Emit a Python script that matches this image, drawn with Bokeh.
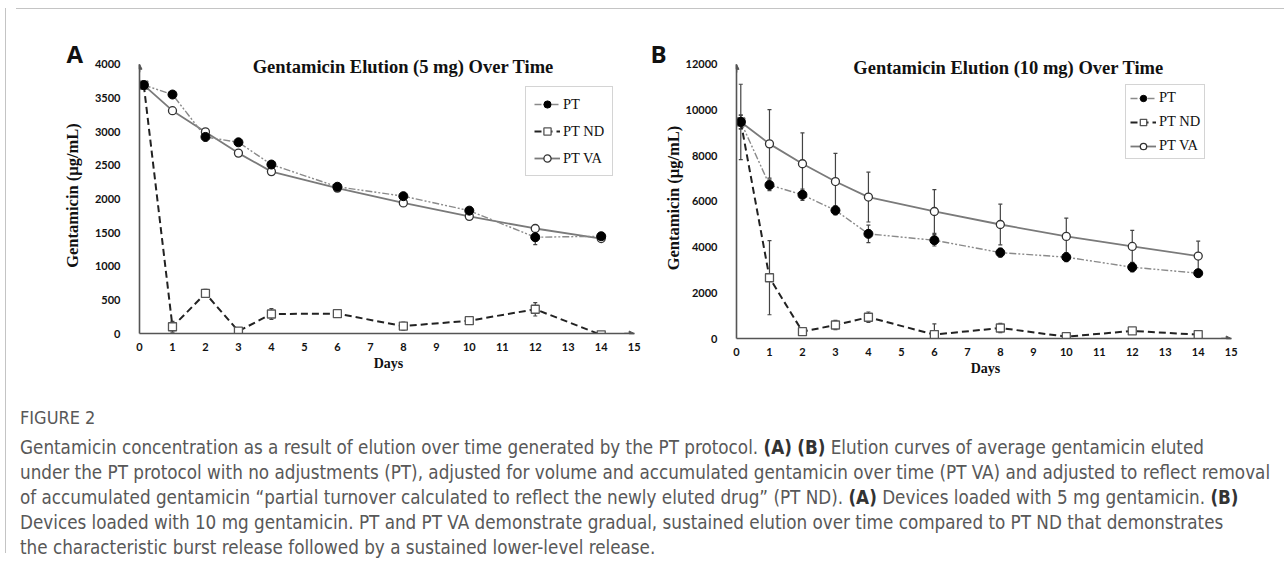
from bokeh.plotting import figure
from bokeh.models import (Range1d, FixedTicker, Whisker, ColumnDataSource, Legend,
                          LegendItem, Label, Arrow, NormalHead, TeeHead, Div, Title, Spacer)
from bokeh.layouts import row, column
from bokeh.embed import file_html
from bokeh.resources import INLINE

# ---------------- data ----------------
days = [0.13, 1, 2, 3, 4, 6, 8, 10, 12, 14]
x_ticks = list(range(16))

a_pt = [3690, 3550, 2920, 2840, 2510, 2180, 2040, 1825, 1430, 1445]
a_pt_err = [40, 40, 60, 40, 40, 40, 40, 40, 110, 40]
a_nd = [3690, 100, 595, 35, 290, 295, 110, 190, 360, -20]
a_nd_err = [40, 80, 60, 40, 80, 50, 60, 40, 100, 30]
a_va = [3690, 3310, 2995, 2680, 2405, 2160, 1940, 1740, 1560, 1410]
a_va_err = [40, 40, 40, 40, 40, 40, 40, 40, 40, 40]
a_yticks = [0, 500, 1000, 1500, 2000, 2500, 3000, 3500, 4000]

b_pt = [9480, 6720, 6290, 5610, 4580, 4300, 3760, 3560, 3120, 2860]
b_pt_err = [300, 250, 250, 200, 380, 250, 200, 200, 200, 150]
b_nd = [9480, 2660, 300, 590, 930, 170, 460, 80, 330, 170]
b_nd_err = [300, 1620, 150, 200, 230, 470, 200, 80, 120, 100]
b_va = [9480, 8520, 7650, 6870, 6190, 5560, 4990, 4470, 4030, 3610]
b_va_err = [1650, 1500, 1350, 1230, 1090, 960, 890, 800, 700, 650]
b_yticks = [0, 2000, 4000, 6000, 8000, 10000, 12000]

labels = ["PT", "PT ND", "PT VA"]

SERIF = "Liberation Serif"
AX = "#555555"
FRAME = "#c4c4c4"


def make_panel(width, height, mbl, mbr, ytop, ymax, yticks, pt, pt_err, nd, nd_err, va, va_err,
               title, title_xy, letter, letter_off, legend_loc, leg_pad, leg_lh, leg_sp,
               ylab_standoff):
    p = figure(width=width, height=height, x_range=Range1d(0, 15.1), y_range=Range1d(0, ytop),
               output_backend="svg", toolbar_location=None,
               min_border_left=mbl, min_border_right=mbr, min_border_top=43,
               min_border_bottom=51)
    p.grid.visible = False
    p.outline_line_color = None
    p.background_fill_color = "white"

    p.xaxis.bounds = (0, 15)
    p.yaxis.bounds = (0, ymax)
    p.xaxis.ticker = FixedTicker(ticks=x_ticks)
    p.yaxis.ticker = FixedTicker(ticks=yticks)
    for ax in (p.xaxis[0], p.yaxis[0]):
        ax.axis_line_color = AX
        ax.axis_line_width = 1.6
        ax.major_tick_line_color = None
        ax.minor_tick_line_color = None
        ax.major_label_text_font = "Lato"
        ax.major_label_text_font_style = "bold"
        ax.major_label_text_font_size = "11px"
        ax.major_label_text_color = "#111111"
        ax.axis_label_text_font = SERIF
        ax.axis_label_text_font_style = "bold"
        ax.axis_label_text_color = "#111111"
    p.xaxis.major_label_standoff = 3
    p.yaxis.major_label_standoff = 13
    p.xaxis.axis_label = "Days"
    p.xaxis.axis_label_text_font_size = "14px"
    p.xaxis.axis_label_standoff = 2
    p.yaxis.axis_label = "Gentamicin (µg/mL)"
    p.yaxis.axis_label_text_font_size = "16.5px"
    p.yaxis.axis_label_standoff = ylab_standoff

    # axis arrow heads
    p.add_layout(Arrow(end=NormalHead(size=5, fill_color=AX, line_color=AX),
                       x_start=0, y_start=ymax * 0.97, x_end=0, y_end=ymax,
                       line_color=AX, line_width=1.6))
    p.add_layout(Arrow(end=NormalHead(size=5, fill_color=AX, line_color=AX),
                       x_start=14.7, y_start=0, x_end=15, y_end=0,
                       line_color=AX, line_width=1.6))

    def src(vals, err):
        return ColumnDataSource(dict(x=days, y=vals,
                                     lo=[v - e for v, e in zip(vals, err)],
                                     hi=[v + e for v, e in zip(vals, err)]))

    s_pt, s_nd, s_va = src(pt, pt_err), src(nd, nd_err), src(va, va_err)

    for s in (s_va, s_pt, s_nd):
        p.add_layout(Whisker(source=s, base="x", upper="hi", lower="lo",
                             line_color="#444444", line_width=1.2,
                             upper_head=TeeHead(size=4, line_color="#444444", line_width=1.2),
                             lower_head=TeeHead(size=4, line_color="#444444", line_width=1.2)))

    l_va = p.line("x", "y", source=s_va, line_color="#7a7a7a", line_width=1.8)
    l_pt = p.line("x", "y", source=s_pt, line_color="#8a8a8a", line_width=1.4,
                  line_dash="7 2 2 2 2 2")
    l_nd = p.line("x", "y", source=s_nd, line_color="#222222", line_width=2.0, line_dash="7 4")

    m_nd = p.scatter("x", "y", source=s_nd, marker="square", size=8, fill_color="white",
                     line_color="#555555", line_width=1.3)
    m_va = p.scatter("x", "y", source=s_va, marker="circle", size=8, fill_color="white",
                     line_color="#333333", line_width=1.3)
    m_pt = p.scatter("x", "y", source=s_pt, marker="circle", size=9, fill_color="black",
                     line_color="black")

    leg = Legend(items=[LegendItem(label=labels[0], renderers=[l_pt, m_pt]),
                        LegendItem(label=labels[1], renderers=[l_nd, m_nd]),
                        LegendItem(label=labels[2], renderers=[l_va, m_va])],
                 location=legend_loc, orientation="vertical",
                 border_line_color="#aaaaaa", border_line_width=1.5,
                 background_fill_color="white", background_fill_alpha=1,
                 label_text_font=SERIF, label_text_font_size="14.5px",
                 label_text_color="#111111",
                 glyph_width=26, glyph_height=leg_lh, label_height=leg_lh, spacing=leg_sp,
                 padding=leg_pad, margin=0, label_standoff=3)
    p.add_layout(leg, "center")

    p.add_layout(Label(x=title_xy[0], y=title_xy[1], text=title, text_align="center",
                       text_baseline="middle", text_font=SERIF, text_font_style="bold",
                       text_font_size="18.5px", text_color="#111111"))
    p.add_layout(Title(text=letter, align="left", offset=letter_off, standoff=-25,
                       vertical_align="bottom", text_font="Open Sans",
                       text_font_style="bold", text_font_size="24px",
                       text_color="#111111"), "above")
    return p


pA = make_panel(631, 370, 128, 5, 4100, 4000, a_yticks, a_pt, a_pt_err, a_nd, a_nd_err,
                a_va, a_va_err, "Gentamicin Elution (5 mg) Over Time", (8.0, 3955),
                "A", -73, (386, 157), 8, 18, 9, 10)
pB = make_panel(636, 375, 94, 44, 12300, 12000, b_yticks, b_pt, b_pt_err, b_nd, b_nd_err,
                b_va, b_va_err, "Gentamicin Elution (10 mg) Over Time", (8.25, 11826),
                "B", -86, (389, 179), 4, 16, 7, 0)

caption_lines = [
    "Gentamicin concentration as a result of elution over time generated by the PT protocol. <b>(A)</b> <b>(B)</b> Elution curves of average gentamicin eluted",
    "under the PT protocol with no adjustments (PT), adjusted for volume and accumulated gentamicin over time (PT VA) and adjusted to reflect removal",
    "of accumulated gentamicin \u201cpartial turnover calculated to reflect the newly eluted drug\u201d (PT ND). <b>(A)</b> Devices loaded with 5 mg gentamicin. <b>(B)</b>",
    "Devices loaded with 10 mg gentamicin. PT and PT VA demonstrate gradual, sustained elution over time compared to PT ND that demonstrates",
    "the characteristic burst release followed by a sustained lower-level release.",
]

html = ("<div style=\"font-family:'Liberation Sans Narrow','DejaVu Sans Condensed',sans-serif;"
        "color:#585858;padding-left:4px;padding-top:12px;white-space:nowrap;\">"
        "<div style=\"font-size:18px;line-height:24px;margin-bottom:5px;\">FIGURE 2</div>"
        "<div style=\"font-size:18.7px;line-height:25px;\">"
        + "<br>".join(l.replace("<b>", "<b style='color:#333'>") for l in caption_lines)
        + "</div></div>")
cap = Div(text=html, width=1267, height=155)

hline = Div(text="", width=1268, height=1, styles={"background-color": FRAME})
vline = Div(text="", width=1, height=545, styles={"background-color": FRAME})

layout = row(column(Spacer(height=3), vline),
             column(Spacer(height=3), hline, row(pA, pB), cap))

open("out.html", "w").write(file_html(layout, INLINE))
